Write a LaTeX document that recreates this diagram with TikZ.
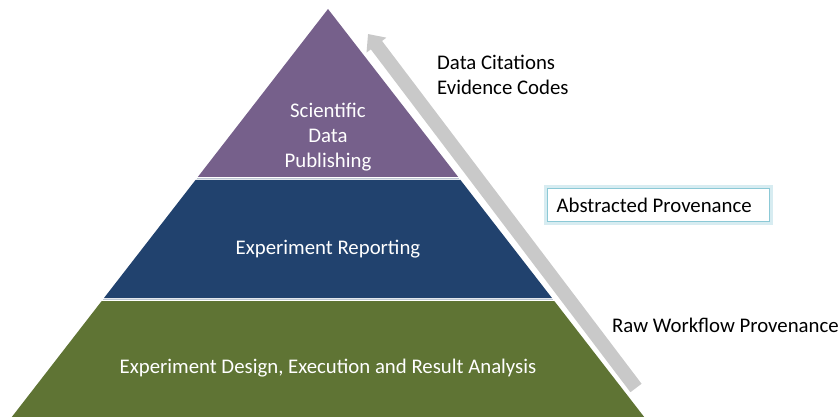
\documentclass[tikz,border=0pt]{standalone}
\usepackage{fontspec}
\setmainfont{Carlito}
\usetikzlibrary{arrows.meta}

\definecolor{tierpurple}{HTML}{76608B}
\definecolor{tierblue}{HTML}{21426E}
\definecolor{tiergreen}{HTML}{5F7434}
\definecolor{tiergap}{HTML}{BCC6D2}
\definecolor{arrowgray}{HTML}{C9C9C9}
\definecolor{glowcyan}{HTML}{8CC9D6}

\begin{document}
\begin{tikzpicture}[x=1pt,y=-1pt]
\tikzstyle{every node}=[font=\fontsize{20.8}{25}\selectfont,inner sep=0pt]
\tikzstyle{tiertext}=[text=white,align=center]
\tikzstyle{sidetext}=[text=black,anchor=west,align=left]
\tikzstyle{glowbox}=[draw=glowcyan,line width=1.3pt,fill=white,inner xsep=9pt,
  minimum height=33pt,preaction={draw=glowcyan!35,line width=7pt}]

\useasboundingbox (0,0) rectangle (839,417);

% pyramid tiers
\begin{scope}
\coordinate (apex) at (328,9);
\fill[tierpurple] (apex) -- (458.2,177) -- (197.8,177) -- cycle;
\fill[tierblue] (195.5,180) -- (460.5,180) -- (552,298) -- (104,298) -- cycle;
\fill[tiergreen] (101.7,301) -- (554.3,301) -- (644.2,417) -- (11.8,417) -- cycle;
\draw[tiergap,line width=1.5pt] (196.6,178.5) -- (459.4,178.5);
\draw[tiergap,line width=1.5pt] (102.8,299.5) -- (553.2,299.5);
\end{scope}

\node[tiertext] (sci) at (328,137) {Scientific\\Data\\Publishing};
\node[tiertext] (rep) at (328,249) {Experiment Reporting};
\node[tiertext] (exe) at (328,368) {Experiment Design, Execution and Result Analysis};

% provenance arrow
\coordinate (tail) at (636,388);
\coordinate (tip) at (368,34);
\draw[arrowgray,line width=14pt,-{Triangle[width=24pt,length=14pt]}] (tail) -- (tip);

\node[sidetext] (cit) at (437,75) {Data Citations\\Evidence Codes};
\node[glowbox,sidetext] (abstr) at (547,205) {\makebox[204pt][l]{Abstracted Provenance}};
\node[sidetext] (raw) at (612,325) {Raw Workflow Provenance};

\end{tikzpicture}
\end{document}
